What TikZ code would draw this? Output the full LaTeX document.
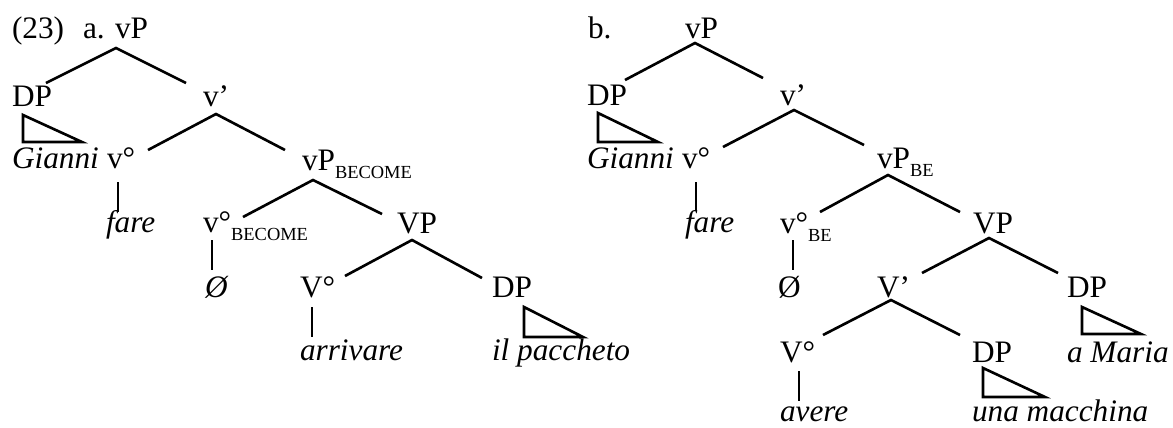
\documentclass[tikz,border=0pt]{standalone}
\usepackage{fontspec}
\setmainfont{Liberation Serif}
\usepackage{tikz}

% lowered small-caps label on a category
\newcommand{\lo}[1]{\raisebox{-0.28em}{\fontsize{10.5}{11}\selectfont #1}}

\begin{document}
\begin{tikzpicture}[
x=0.02cm, y=-0.02cm,
font=\fontsize{17.8}{20}\selectfont,
lbl/.style={anchor=base west,inner sep=0pt,outer sep=0pt},
word/.style={lbl,font=\fontsize{17.8}{20}\selectfont\itshape},
branch/.style={line width=1.5pt},
tri/.style={line width=1.5pt,line join=miter}
]
    \useasboundingbox (0,0) rectangle (1173,427);

    % (a) labels
    \node[lbl] (a23) at (12,38) {(23)};
    \node[lbl] (aa) at (83,38) {a.};
    \node[lbl] (avP) at (115,38) {vP};
    \node[lbl] (aDP) at (12,106) {DP};
    \node[lbl] (avbar) at (203,106) {v’};
    \node[word] (aGianni) at (12,168) {Gianni};
    \node[lbl] (av) at (107,168) {v°};
    \node[lbl] (avPbec) at (302,170) {vP\lo{BECOME}};
    \node[word] (afare) at (106,232) {fare};
    \node[lbl] (avbec) at (203,232) {v°\lo{BECOME}};
    \node[lbl] (aVP) at (397,233) {VP};
    \node[word] (aNull) at (205,297) {Ø};
    \node[lbl] (aV) at (300,297) {V°};
    \node[lbl] (aDP2) at (492,297) {DP};
    \node[word] (aarr) at (300,360) {arrivare};
    \node[word] (apacc) at (492,360) {il paccheto};

    % (a) branches
    \draw[branch] ([shift={(34,-23)}]aDP.base west) -- ([shift={(1,10)}]avP.base west)
        -- ([shift={(-17,-23)}]avbar.base west);
    \draw[tri] ([shift={(11,9)}]aDP.base west) -- ++(0,27) -- ++(59,0) -- cycle;
    \draw[branch] ([shift={(41,-18)}]av.base west) -- ([shift={(13,8)}]avbar.base west)
        -- ([shift={(-17,-20)}]avPbec.base west);
    \draw[branch] ([shift={(11,14)}]av.base west) -- ([shift={(12,-20)}]afare.base west);
    \draw[branch] ([shift={(40,-15)}]avbec.base west) -- ([shift={(11,10)}]avPbec.base west)
        -- ([shift={(-15,-19)}]aVP.base west);
    \draw[branch] ([shift={(9,8)}]avbec.base west) -- ([shift={(7,-27)}]aNull.base west);
    \draw[branch] ([shift={(45,-21)}]aV.base west) -- ([shift={(15,7)}]aVP.base west)
        -- ([shift={(-10,-19)}]aDP2.base west);
    \draw[branch] ([shift={(12,10)}]aV.base west) -- ([shift={(12,-23)}]aarr.base west);
    \draw[tri] ([shift={(32,10)}]aDP2.base west) -- ++(0,30) -- ++(59,0) -- cycle;

    % (b) labels
    \node[lbl] (bb) at (588,38) {b.};
    \node[lbl] (bvP) at (685,38) {vP};
    \node[lbl] (bDP) at (587,105) {DP};
    \node[lbl] (bvbar) at (780,105) {v’};
    \node[word] (bGianni) at (587,168) {Gianni};
    \node[lbl] (bv) at (682,168) {v°};
    \node[lbl] (bvPbe) at (877,168) {vP\lo{BE}};
    \node[word] (bfare) at (685,232) {fare};
    \node[lbl] (bvbe) at (780,233) {v°\lo{BE}};
    \node[lbl] (bVP) at (973,233) {VP};
    \node[lbl] (bNull) at (778,297) {Ø};
    \node[lbl] (bVbar) at (877,297) {V’};
    \node[lbl] (bDPm) at (1067,297) {DP};
    \node[word] (bMaria) at (1067,362) {a Maria};
    \node[lbl] (bV) at (780,362) {V°};
    \node[lbl] (bDPu) at (972,362) {DP};
    \node[word] (bavere) at (780,421) {avere};
    \node[word] (buna) at (972,421) {una macchina};

    % (b) branches
    \draw[branch] ([shift={(38,-25)}]bDP.base west) -- ([shift={(10,5)}]bvP.base west)
        -- ([shift={(-17,-27)}]bvbar.base west);
    \draw[tri] ([shift={(11,8)}]bDP.base west) -- ++(0,29) -- ++(60,0) -- cycle;
    \draw[branch] ([shift={(41,-21)}]bv.base west) -- ([shift={(14,5)}]bvbar.base west)
        -- ([shift={(-13,-23)}]bvPbe.base west);
    \draw[branch] ([shift={(14,14)}]bv.base west) -- ([shift={(11,-21)}]bfare.base west);
    \draw[branch] ([shift={(40,-21)}]bvbe.base west) -- ([shift={(11,7)}]bvPbe.base west)
        -- ([shift={(-13,-21)}]bVP.base west);
    \draw[branch] ([shift={(13,7)}]bvbe.base west) -- ([shift={(15,-27)}]bNull.base west);
    \draw[branch] ([shift={(45,-24)}]bVbar.base west) -- ([shift={(16,5)}]bVP.base west)
        -- ([shift={(-9,-24)}]bDPm.base west);
    \draw[tri] ([shift={(15,10)}]bDPm.base west) -- ++(0,27) -- ++(59,0) -- cycle;
    \draw[branch] ([shift={(43,-27)}]bV.base west) -- ([shift={(14,3)}]bVbar.base west)
        -- ([shift={(-12,-27)}]bDPu.base west);
    \draw[branch] ([shift={(19,9)}]bV.base west) -- ([shift={(19,-20)}]bavere.base west);
    \draw[tri] ([shift={(11,6)}]bDPu.base west) -- ++(0,29) -- ++(62,0) -- cycle;

\end{tikzpicture}
\end{document}
